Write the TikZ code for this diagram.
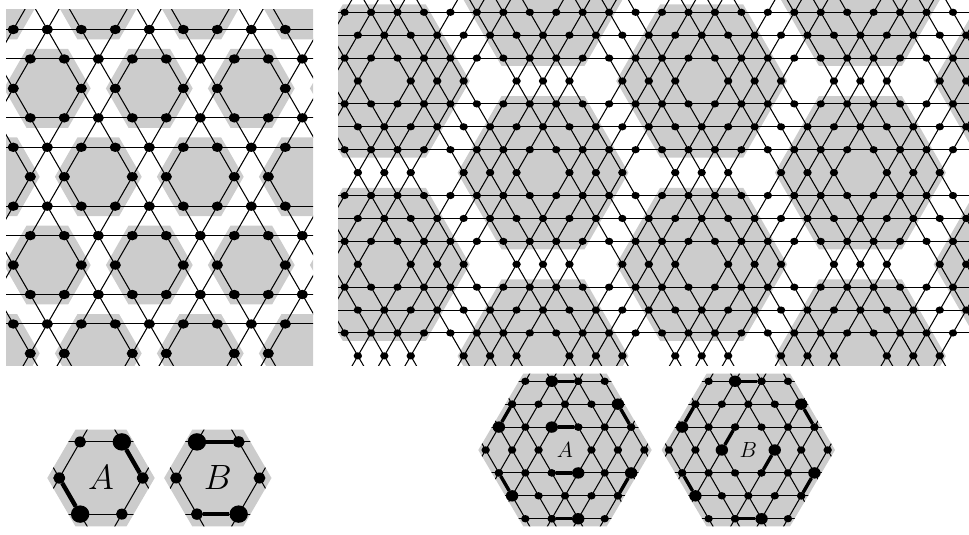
\documentclass[tikz,border=0pt]{standalone}
\usetikzlibrary{shapes.geometric}
\definecolor{hexgray}{gray}{0.8}
\tikzset{
  latline/.style={draw=black,line width=1.05pt},
  hexfill/.style={fill=hexgray},
  smalldotL/.style={ellipse,fill=black,inner sep=0pt,minimum width=11.8pt,minimum height=11pt},
  bigdotL/.style={ellipse,fill=black,inner sep=0pt,minimum width=18.4pt,minimum height=17.4pt},
  smalldotR/.style={ellipse,fill=black,inner sep=0pt,minimum width=8.4pt,minimum height=7.2pt},
  bigdotR/.style={ellipse,fill=black,inner sep=0pt,minimum width=12.4pt,minimum height=11.4pt},
  boldL/.style={line width=4.4pt,draw=black},
  boldR/.style={line width=3.4pt,draw=black},
  letter/.style={inner sep=0pt,font=\Huge}
}
% hexagon path: centre x, y, tip distance, half top edge, apothem
\newcommand\hexp[5]{({#1+#3},{#2}) -- ({#1+#4},{#2+#5}) -- ({#1-#4},{#2+#5}) -- ({#1-#3},{#2}) -- ({#1-#4},{#2-#5}) -- ({#1+#4},{#2-#5}) -- cycle}
% lattice: x0,y0,a,n,N,rx,ry
\newcommand\lat[7]{%
  \pgfmathsetmacro\hh{#3*0.866025}%
  \foreach \k in {-#5,...,#5}{%
    \pgfmathtruncatemacro\m{Mod(\k,#4)}%
    \ifnum\m=0\else
      \draw[latline] ({#1-#3*3*#5},{#2+\hh*\k}) -- ({#1+#3*3*#5},{#2+\hh*\k});
      \draw[latline] ({#1+#3*(\k-#5/2)},{#2-\hh*#5}) -- ({#1+#3*(\k+#5/2)},{#2+\hh*#5});
      \draw[latline] ({#1+#3*(\k+#5/2)},{#2-\hh*#5}) -- ({#1+#3*(\k-#5/2)},{#2+\hh*#5});
    \fi
  }%
  \foreach \i in {-#5,...,#5}{%
    \foreach \j in {-#5,...,#5}{%
      \pgfmathtruncatemacro\mi{Mod(\i,#4)}%
      \pgfmathtruncatemacro\mj{Mod(\j,#4)}%
      \pgfmathtruncatemacro\hole{and(\mi==0,\mj==0)}%
      \ifnum\hole=0
        \pgfmathsetmacro\px{#1+#3*(\i+\j/2)}%
        \pgfmathsetmacro\py{#2+\hh*\j}%
        \pgfmathtruncatemacro\ok{and(and(\px>\xa,\px<\xb),and(\py>\ya,\py<\yb))}%
        \ifnum\ok=1
          \fill (\px,\py) ellipse [x radius=#6,y radius=#7];
        \fi
      \fi
    }%
  }%
}
\begin{document}
\begin{tikzpicture}[x=1pt,y=-1pt]
\useasboundingbox (0,0) rectangle (969,535);
% ---------- top left panel
\begin{scope}
  \clip (6,10) rectangle (313,365);
  \def\xa{-5}\def\xb{325}\def\ya{0}\def\yb{375}
  \foreach \p in {-3,...,4}{
    \foreach \q in {-1,...,3}{
      \pgfmathsetmacro\cx{47.3+34*(3*\p+1.5*\q)}
      \pgfmathsetmacro\cy{88.4+29.445*3*\q}
      \fill[hexfill] \hexp{\cx}{\cy}{43.4}{20.8}{39.4};
    }
  }
  \lat{47.3}{88.4}{34}{3}{16}{5.6}{4.7}
\end{scope}
% ---------- top right panel
\begin{scope}
  \clip (338,0) rectangle (969,365);
  \def\xa{330}\def\xb{980}\def\ya{-10}\def\yb{375}
  \foreach \p in {-3,...,6}{
    \foreach \q in {-1,...,3}{
      \pgfmathtruncatemacro\g{Mod(\p-\q,3)}
      \ifnum\g=0
        \pgfmathsetmacro\cx{384.3+26.45*(4*\p+2*\q)}
        \pgfmathsetmacro\cy{81+22.92*4*\q}
        \fill[hexfill] \hexp{\cx}{\cy}{85.5}{41.5}{76.6};
      \fi
    }
  }
  \lat{384.3}{81}{26.45}{4}{30}{4.2}{3.6}
\end{scope}
% ---------- inset A, small
\fill[hexfill] \hexp{101}{478}{53.7}{25.5}{48.4};
\begin{scope}
  \clip \hexp{101}{478}{53.7}{25.5}{48.4};
  \def\xa{40}\def\xb{160}\def\ya{420}\def\yb{535}
  \lat{101}{478}{41.7}{3}{5}{5.9}{5.5}
\end{scope}
\node[bigdotL] (aA) at (121.85,441.9) {};
\node[smalldotL] (aB) at (142.7,478) {};
\node[bigdotL] (aC) at (80.15,514.1) {};
\node[smalldotL] (aD) at (59.3,478) {};
\draw[boldL] (aA) -- (aB);
\draw[boldL] (aC) -- (aD);
\node[letter,scale=1.41] (labA) at (101,478) {$A$};
% ---------- inset B, small
\fill[hexfill] \hexp{217.8}{478}{53.7}{25.5}{48.4};
\begin{scope}
  \clip \hexp{217.8}{478}{53.7}{25.5}{48.4};
  \def\xa{155}\def\xb{280}\def\ya{420}\def\yb{535}
  \lat{217.8}{478}{41.7}{3}{5}{5.9}{5.5}
\end{scope}
\node[bigdotL] (bA) at (196.95,441.9) {};
\node[smalldotL] (bB) at (238.65,441.9) {};
\node[bigdotL] (bC) at (238.65,514.1) {};
\node[smalldotL] (bD) at (196.95,514.1) {};
\draw[boldL] (bA) -- (bB);
\draw[boldL] (bC) -- (bD);
\node[letter,scale=1.41] (labB) at (217.8,478) {$B$};
% ---------- inset A, large
\fill[hexfill] \hexp{565}{450}{86.7}{41.7}{76.4};
\begin{scope}
  \clip \hexp{565}{450}{86.7}{41.7}{76.4};
  \def\xa{470}\def\xb{660}\def\ya{365}\def\yb{535}
  \lat{565}{450}{26.45}{4}{8}{4.2}{3.7}
\end{scope}
\newcommand\ptA[4]{\node[#1] (#2) at ({565+26.45*(#3)},{450+22.92*(#4)}) {};}
\ptA{bigdotR}{c1}{-.5}{-3}\ptA{smalldotR}{c2}{.5}{-3}\draw[boldR] (c1) -- (c2);
\ptA{bigdotR}{c3}{-2.5}{-1}\ptA{smalldotR}{c4}{-2}{-2}\draw[boldR] (c3) -- (c4);
\ptA{bigdotR}{c5}{2}{-2}\ptA{smalldotR}{c6}{2.5}{-1}\draw[boldR] (c5) -- (c6);
\ptA{bigdotR}{c7}{-.5}{-1}\ptA{smalldotR}{c8}{.5}{-1}\draw[boldR] (c7) -- (c8);
\ptA{bigdotR}{c9}{.5}{1}\ptA{smalldotR}{c10}{-.5}{1}\draw[boldR] (c9) -- (c10);
\ptA{bigdotR}{c11}{2.5}{1}\ptA{smalldotR}{c12}{2}{2}\draw[boldR] (c11) -- (c12);
\ptA{bigdotR}{c13}{-2}{2}\ptA{smalldotR}{c14}{-2.5}{1}\draw[boldR] (c13) -- (c14);
\ptA{bigdotR}{c15}{.5}{3}\ptA{smalldotR}{c16}{-.5}{3}\draw[boldR] (c15) -- (c16);
\node[letter,scale=.88] (labC) at (565,450.5) {$A$};
% ---------- inset B, large
\fill[hexfill] \hexp{748.3}{450}{86.7}{41.7}{76.4};
\begin{scope}
  \clip \hexp{748.3}{450}{86.7}{41.7}{76.4};
  \def\xa{650}\def\xb{845}\def\ya{365}\def\yb{535}
  \lat{748.3}{450}{26.45}{4}{8}{4.2}{3.7}
\end{scope}
\newcommand\ptB[4]{\node[#1] (#2) at ({748.3+26.45*(#3)},{450+22.92*(#4)}) {};}
\ptB{bigdotR}{d1}{-.5}{-3}\ptB{smalldotR}{d2}{.5}{-3}\draw[boldR] (d1) -- (d2);
\ptB{bigdotR}{d3}{-2.5}{-1}\ptB{smalldotR}{d4}{-2}{-2}\draw[boldR] (d3) -- (d4);
\ptB{bigdotR}{d5}{2}{-2}\ptB{smalldotR}{d6}{2.5}{-1}\draw[boldR] (d5) -- (d6);
\ptB{bigdotR}{d7}{-1}{0}\ptB{smalldotR}{d8}{-.5}{-1}\draw[boldR] (d7) -- (d8);
\ptB{bigdotR}{d9}{1}{0}\ptB{smalldotR}{d10}{.5}{1}\draw[boldR] (d9) -- (d10);
\ptB{bigdotR}{d11}{2.5}{1}\ptB{smalldotR}{d12}{2}{2}\draw[boldR] (d11) -- (d12);
\ptB{bigdotR}{d13}{-2}{2}\ptB{smalldotR}{d14}{-2.5}{1}\draw[boldR] (d13) -- (d14);
\ptB{bigdotR}{d15}{.5}{3}\ptB{smalldotR}{d16}{-.5}{3}\draw[boldR] (d15) -- (d16);
\node[letter,scale=.88] (labD) at (748.3,450.5) {$B$};
\end{tikzpicture}
\end{document}
